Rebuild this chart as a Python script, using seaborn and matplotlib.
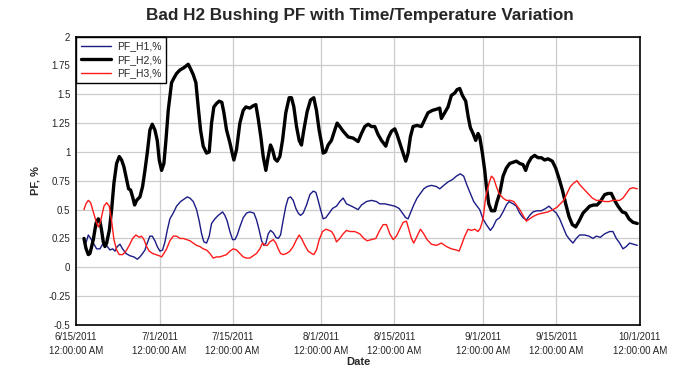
import matplotlib
matplotlib.use("Agg")
import matplotlib.pyplot as plt
from matplotlib.ticker import FuncFormatter
import seaborn as sns
import pandas as pd

# ---- data (days after 6/15/2011, PF %) ----
h2_days = [1.53, 1.91, 2.36, 2.68, 3.32, 3.83, 4.27, 4.59, 4.91, 5.23, 5.55, 5.87, 6.38, 6.83, 7.27, 7.78,
           8.29, 8.74, 9.19, 9.70, 10.08, 10.46, 10.85, 11.23, 11.61, 12.25, 12.76, 13.21, 13.65, 14.16, 14.61,
           15.12, 15.57, 15.95, 16.40, 16.84, 17.23, 17.67, 18.31, 18.76, 19.27, 19.91, 20.67, 21.50, 21.95,
           22.46, 22.97, 23.41, 23.86, 24.37, 25.01, 25.52, 25.97, 26.41, 26.92, 27.43, 27.94, 28.33, 28.84,
           29.48, 29.92, 30.24, 30.75, 31.39, 32.03, 32.54, 33.30, 33.94, 34.45, 34.90, 35.41, 35.86, 36.37,
           36.81, 37.26, 37.64, 38.09, 38.54, 39.05, 39.56, 40.19, 40.83, 41.28, 41.73, 42.24, 42.75, 43.19,
           43.64, 44.28, 44.92, 45.55, 46.06, 46.57, 47.02, 47.34, 47.79, 48.30, 48.93, 49.57, 50.02,
           50.53, 51.17, 52.13, 53.08, 54.04, 54.68, 55.32, 55.96, 56.60, 57.23, 57.87, 58.51, 59.34, 59.79,
           60.43, 61.06, 61.50, 62.01, 62.65, 63.16, 63.61, 64.05, 64.56, 65.33, 66.16, 66.80, 67.43, 68.26,
           69.03, 69.67, 69.99, 70.63, 71.26, 71.90, 72.54, 72.99, 73.50, 74.01, 74.65, 75.10, 75.54, 76.05,
           76.56, 77.01, 77.33, 77.84, 78.29, 78.61, 79.06, 79.57, 80.20, 80.65, 81.16, 81.80, 82.43, 83.07,
           83.71, 84.35, 84.99, 85.62, 86.13, 86.58, 87.22, 87.85, 88.49, 89.13, 89.77, 90.41, 91.24, 91.88,
           92.52, 93.16, 93.80, 94.43, 95.07, 95.71, 96.35, 97.12, 97.76, 98.39, 99.16, 99.80, 100.43, 101.26,
           101.90, 102.54, 103.17, 103.81, 104.64, 105.28, 105.92, 106.68, 107.51]
h2_vals = [0.25, 0.165, 0.11, 0.12, 0.24, 0.38, 0.42, 0.40, 0.32, 0.22, 0.18, 0.21, 0.32, 0.50, 0.73, 0.90,
           0.96, 0.93, 0.87, 0.76, 0.68, 0.67, 0.61, 0.54, 0.58, 0.61, 0.70, 0.84, 0.99, 1.19, 1.24,
           1.19, 1.10, 0.93, 0.84, 0.90, 1.10, 1.36, 1.60, 1.64, 1.68, 1.71, 1.73, 1.76, 1.72,
           1.67, 1.60, 1.39, 1.19, 1.05, 0.99, 1.00, 1.25, 1.39, 1.42, 1.44, 1.43, 1.34, 1.19,
           1.08, 0.99, 0.93, 1.02, 1.25, 1.36, 1.39, 1.38, 1.40, 1.41, 1.29, 1.13, 0.96, 0.84,
           0.96, 1.06, 1.02, 0.94, 0.92, 0.96, 1.10, 1.34, 1.47, 1.47, 1.39, 1.22, 1.10, 1.06,
           1.19, 1.35, 1.45, 1.47, 1.36, 1.19, 1.08, 0.99, 1.00, 1.06, 1.10, 1.19, 1.25,
           1.22, 1.18, 1.13, 1.12, 1.09, 1.16, 1.22, 1.24, 1.22, 1.22, 1.15, 1.10, 1.05, 1.12,
           1.18, 1.20, 1.15, 1.08, 0.99, 0.92, 0.99, 1.13, 1.22, 1.23, 1.22, 1.28, 1.34, 1.36,
           1.37, 1.38, 1.29, 1.34, 1.39, 1.49, 1.51, 1.54, 1.55, 1.49, 1.44, 1.31, 1.21, 1.16,
           1.10, 1.16, 1.13, 0.99, 0.84, 0.70, 0.55, 0.49, 0.49, 0.57, 0.64, 0.79, 0.86, 0.90,
           0.91, 0.92, 0.90, 0.89, 0.84, 0.90, 0.95, 0.97, 0.95, 0.95, 0.93, 0.94, 0.92, 0.86,
           0.77, 0.67, 0.55, 0.44, 0.37, 0.35, 0.40, 0.47, 0.50, 0.53, 0.54, 0.54, 0.57, 0.63,
           0.64, 0.64, 0.58, 0.53, 0.48, 0.47, 0.42, 0.39, 0.38]

h1_days = [1.53, 1.91, 2.36, 2.81, 3.32, 3.96, 4.59, 5.11, 5.55, 6.00, 6.51, 7.02, 7.47, 7.91, 8.42, 8.93,
           9.57, 10.34, 11.10, 11.74, 12.25, 12.76, 13.21, 13.65, 14.16, 14.61, 15.12, 15.57, 16.08, 16.59,
           17.04, 17.48, 17.99, 18.63, 19.27, 20.04, 20.67, 21.31, 21.83, 22.46, 23.10, 23.61, 24.06, 24.50,
           25.01, 25.52, 25.97, 26.61, 27.25, 28.08, 28.52, 28.97, 29.48, 29.99, 30.44, 30.89, 31.39, 32.03,
           32.67, 33.31, 34.08, 34.59, 35.10, 35.55, 35.99, 36.38, 36.82, 37.27, 37.78, 38.29, 38.74, 39.18,
           39.69, 40.20, 40.65, 41.10, 41.61, 42.12, 42.56, 43.01, 43.52, 44.16, 44.80, 45.44, 45.95, 46.39,
           46.84, 47.35, 47.86, 48.50, 49.14, 49.90,
           50.53, 51.17, 51.81, 52.77, 54.04, 54.68, 55.64, 56.60, 57.55, 58.19, 59.15, 60.11, 61.06, 61.89,
           62.53, 63.16, 63.61, 64.05, 64.69, 65.33, 65.97, 66.61, 67.25, 68.08, 69.03, 69.67, 70.44, 71.26,
           72.09, 72.86, 73.62, 74.26, 74.90, 75.54, 76.18, 76.82, 77.33, 77.96, 78.60, 79.37, 79.88, 80.52,
           81.16, 81.79, 82.43, 82.94, 83.71, 84.34, 84.98, 85.62, 86.26, 86.90, 87.53, 88.30, 89.13, 89.96,
           90.60, 91.24, 92.00, 92.64, 93.28, 93.92, 94.56, 95.19, 95.83, 96.47, 97.43, 98.26, 99.02, 99.66,
           100.43, 101.26, 102.21, 102.85, 103.49, 104.13, 104.77, 105.40, 106.04, 106.81, 107.51]
h1_vals = [0.24, 0.21, 0.28, 0.25, 0.21, 0.16, 0.16, 0.20, 0.21, 0.18, 0.15, 0.16, 0.14, 0.18, 0.20, 0.16,
           0.12, 0.10, 0.09, 0.07, 0.09, 0.12, 0.15, 0.21, 0.27, 0.27, 0.23, 0.18, 0.14, 0.15,
           0.22, 0.32, 0.42, 0.47, 0.53, 0.57, 0.59, 0.61, 0.60, 0.57, 0.50, 0.40, 0.29, 0.22,
           0.21, 0.27, 0.38, 0.42, 0.45, 0.48, 0.45, 0.40, 0.31, 0.24, 0.24, 0.28, 0.35, 0.43,
           0.47, 0.48, 0.47, 0.41, 0.32, 0.23, 0.19, 0.21, 0.29, 0.32, 0.30, 0.26, 0.25, 0.28,
           0.41, 0.53, 0.60, 0.61, 0.58, 0.51, 0.47, 0.45, 0.47, 0.54, 0.63, 0.66, 0.65, 0.58,
           0.50, 0.42, 0.43, 0.47, 0.51, 0.53,
           0.57, 0.60, 0.55, 0.53, 0.50, 0.54, 0.57, 0.58, 0.57, 0.55, 0.55, 0.54, 0.53, 0.51,
           0.47, 0.43, 0.42, 0.47, 0.54, 0.60, 0.64, 0.68, 0.70, 0.71, 0.70, 0.68, 0.71, 0.74,
           0.76, 0.79, 0.81, 0.79, 0.71, 0.64, 0.57, 0.53, 0.50, 0.42, 0.37, 0.32, 0.35, 0.41,
           0.43, 0.48, 0.54, 0.57, 0.55, 0.53, 0.47, 0.43, 0.41, 0.45, 0.48, 0.49, 0.49, 0.51,
           0.53, 0.50, 0.47, 0.42, 0.35, 0.28, 0.24, 0.21, 0.25, 0.28, 0.28, 0.27, 0.25, 0.27,
           0.26, 0.29, 0.31, 0.31, 0.25, 0.21, 0.16, 0.18, 0.21, 0.20, 0.19]

h3_days = [1.53, 1.91, 2.36, 2.81, 3.32, 3.83, 4.27, 4.59, 4.91, 5.36, 5.87, 6.38, 6.83, 7.27, 7.78, 8.29,
           8.93, 9.57, 10.21, 10.85, 11.48, 12.12, 12.57, 13.02, 13.53, 14.04, 14.67, 15.31, 15.95, 16.40,
           16.84, 17.36, 17.99, 18.63, 19.27, 19.91, 20.54, 21.18, 21.82, 22.46, 23.10, 23.73, 24.37, 25.01,
           25.65, 26.29, 26.92, 27.56, 28.20, 28.84, 29.48, 30.12, 30.75, 31.39, 32.03, 32.67, 33.31, 33.94,
           34.58, 35.22, 35.73, 36.18, 36.63, 37.14, 37.78, 38.29, 38.74, 39.18, 39.69, 40.33, 40.97, 41.61,
           42.24, 42.75, 43.20, 43.84, 44.48, 45.12, 45.56, 46.07, 46.59, 47.22, 47.86, 48.50, 48.95, 49.39,
           49.90,
           50.53, 51.17, 51.81, 52.45, 53.40, 54.36, 55.13, 55.77, 56.60, 57.43, 58.06, 58.83, 59.47, 60.11,
           60.75, 61.38, 62.02, 62.66, 63.30, 63.81, 64.25, 64.70, 65.34, 65.97, 66.61, 67.25, 68.08, 69.03,
           69.99, 70.95, 71.90, 72.86, 73.37, 73.82, 74.46, 75.10, 75.73, 76.37, 77.01, 77.46, 77.97, 78.48,
           79.12, 79.57, 80.01, 80.52, 81.03, 81.80, 82.43, 83.20, 83.84, 84.35, 84.99, 85.62, 86.26, 86.90,
           87.54, 88.49, 89.45, 90.41, 91.36, 92.13, 92.77, 93.41, 94.05, 94.69, 95.33, 95.96, 96.60, 97.43,
           98.26, 98.90, 99.67, 100.43, 101.26, 102.09, 102.85, 103.49, 104.13, 104.77, 105.41, 106.05,
           106.68, 107.51]
h3_vals = [0.50, 0.55, 0.58, 0.56, 0.48, 0.40, 0.35, 0.38, 0.44, 0.53, 0.56, 0.53, 0.40, 0.24, 0.15, 0.11,
           0.11, 0.14, 0.19, 0.25, 0.28, 0.26, 0.27, 0.24, 0.18, 0.14, 0.12, 0.11, 0.10, 0.09,
           0.12, 0.16, 0.23, 0.27, 0.27, 0.25, 0.25, 0.24, 0.23, 0.21, 0.19, 0.18, 0.16, 0.15,
           0.12, 0.08, 0.09, 0.09, 0.10, 0.11, 0.14, 0.16, 0.15, 0.12, 0.09, 0.08, 0.08, 0.10,
           0.12, 0.16, 0.21, 0.19, 0.19, 0.22, 0.24, 0.21, 0.16, 0.12, 0.11, 0.12, 0.14, 0.18,
           0.24, 0.28, 0.25, 0.19, 0.14, 0.12, 0.11, 0.15, 0.24, 0.31, 0.33, 0.32, 0.31, 0.28,
           0.22,
           0.25, 0.29, 0.32, 0.31, 0.31, 0.29, 0.25, 0.23, 0.24, 0.25, 0.31, 0.37, 0.37, 0.29,
           0.24, 0.27, 0.33, 0.39, 0.40, 0.32, 0.25, 0.21, 0.27, 0.33, 0.29, 0.24, 0.20, 0.19,
           0.21, 0.18, 0.16, 0.15, 0.14, 0.19, 0.27, 0.33, 0.32, 0.33, 0.31, 0.34, 0.42, 0.61,
           0.73, 0.79, 0.77, 0.70, 0.64, 0.60, 0.58, 0.58, 0.57, 0.54, 0.50, 0.45, 0.40, 0.42,
           0.44, 0.46, 0.47, 0.48, 0.50, 0.52, 0.55, 0.58, 0.64, 0.70, 0.73, 0.75, 0.71, 0.67,
           0.63, 0.60, 0.58, 0.58, 0.57, 0.57, 0.58, 0.58, 0.58, 0.60, 0.64, 0.68,
           0.69, 0.68]

series_names = ["PF_H1,%", "PF_H2,%", "PF_H3,%"]
series_colors = ["#1c1c86", "#000000", "#ff1a1a"]
series_widths = [1.0, 2.4, 1.0]
tick_dates = ["2011-06-15", "2011-07-01", "2011-07-15", "2011-08-01", "2011-08-15",
              "2011-09-01", "2011-09-15", "2011-10-01"]
y_ticks = [-0.5, -0.25, 0, 0.25, 0.5, 0.75, 1, 1.25, 1.5, 1.75, 2]

start = pd.Timestamp("2011-06-15")

def make_df(days, vals):
    return pd.DataFrame({"Date": start + pd.to_timedelta(days, unit="D"), "PF": vals})

frames = [make_df(h1_days, h1_vals), make_df(h2_days, h2_vals), make_df(h3_days, h3_vals)]

sns.set_style("white")
plt.rcParams["font.family"] = ["Liberation Sans", "DejaVu Sans"]

fig = plt.figure(figsize=(6.97, 3.77), dpi=100)
ax = fig.add_axes([0.109, 0.138, 0.809, 0.765])

for df, name, c, lw in zip(frames, series_names, series_colors, series_widths):
    sns.lineplot(data=df, x="Date", y="PF", ax=ax, color=c, linewidth=lw, label=name)

tick_ts = pd.to_datetime(tick_dates)
ax.set_xlim(tick_ts[0], tick_ts[-1])
ax.set_xticks(tick_ts)
ax.set_xticklabels([f"{t.month}/{t.day}/{t.year}\n12:00:00 AM" for t in tick_ts],
                   fontsize=7, linespacing=1.45)
ax.set_ylim(-0.5, 2)
ax.set_yticks(y_ticks)
ax.yaxis.set_major_formatter(FuncFormatter(lambda v, p: f"{v:g}"))
ax.tick_params(axis="y", labelsize=7, length=0, pad=4)
ax.tick_params(axis="x", length=0, pad=5)

ax.grid(True, color="#cccccc", linewidth=0.9)
ax.set_axisbelow(True)
for s in ax.spines.values():
    s.set_color("black")
    s.set_linewidth(1.2)

ax.set_xlabel("Date", fontsize=8, fontweight="bold", labelpad=1)
ax.set_ylabel("PF, %", fontsize=8, fontweight="bold", labelpad=6)
fig.suptitle("Bad H2 Bushing PF with Time/Temperature Variation", fontsize=12.3,
             fontweight="bold", x=0.517, y=0.98)

leg = ax.legend(loc="upper left", fontsize=7.5, frameon=True, fancybox=False,
                borderaxespad=0, handlelength=2.9, labelspacing=0.35,
                borderpad=0.45, handletextpad=0.6)
leg.get_frame().set_edgecolor("black")
leg.get_frame().set_linewidth(1.0)
leg.get_frame().set_alpha(1)

fig.savefig("out.png", dpi=100)
